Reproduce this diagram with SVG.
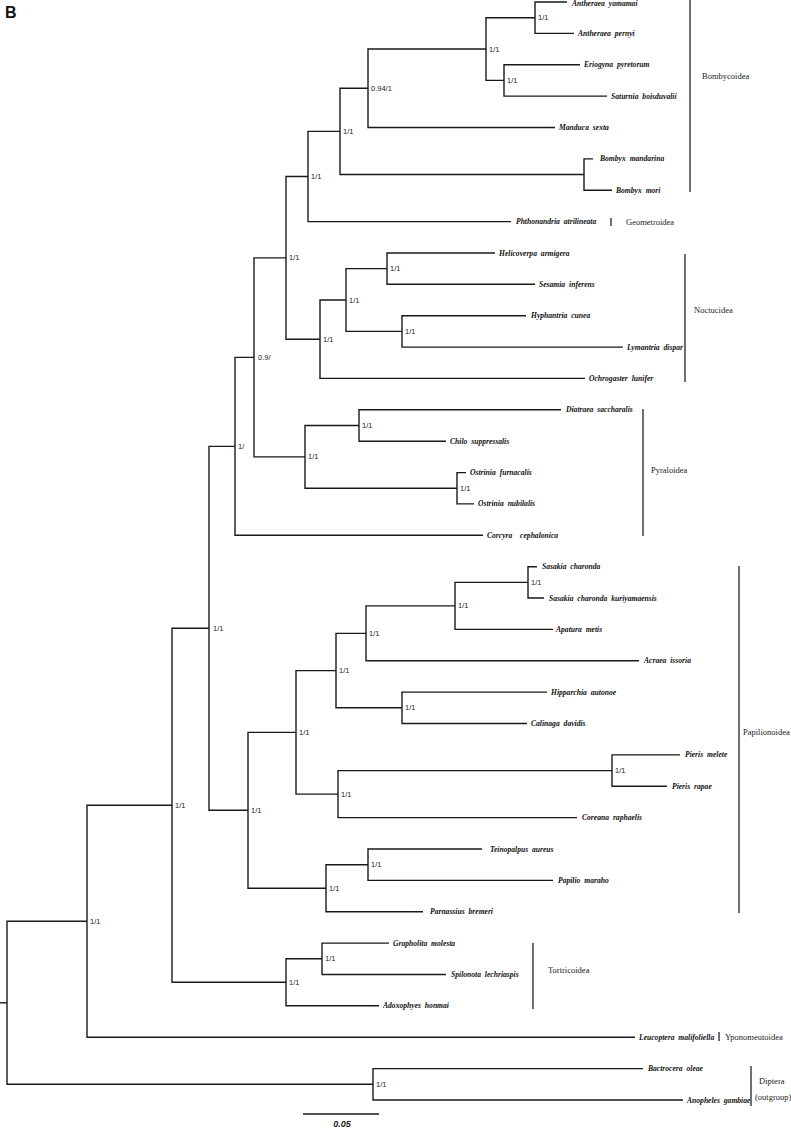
<svg xmlns="http://www.w3.org/2000/svg" width="791" height="1128" viewBox="0 0 791 1128">
<style>
.br{fill:none;stroke:#1a1a1a;stroke-width:1.4}
.bar{fill:none;stroke:#333;stroke-width:1.4}
.tx{font-family:"Liberation Serif",serif;font-style:italic;font-weight:bold;font-size:7.6px;word-spacing:2px;fill:#111;dominant-baseline:central}
.bs{font-family:"Liberation Sans",sans-serif;font-size:7.5px;fill:#222;dominant-baseline:central}
.grp{font-family:"Liberation Serif",serif;font-size:8.5px;fill:#222;dominant-baseline:central}
</style>
<rect width="791" height="1128" fill="#fff"/>
<text x="5" y="18" font-family="Liberation Sans,sans-serif" font-weight="bold" font-size="16" fill="#111">B</text>
<g id="connectors">
<path class="br" d="M567 2 H535 V33.4 H574"/>
<path class="br" d="M580 64.7 H504 V96.1 H607"/>
<path class="br" d="M535 17.7 H486 V80.4 H504"/>
<path class="br" d="M486 49.05 H368 V127.5 H555"/>
<path class="br" d="M593 158.9 H584 V190.2 H612"/>
<path class="br" d="M368 88.3 H340 V174.55 H584"/>
<path class="br" d="M340 131.4 H308 V221.6 H511"/>
<path class="br" d="M495 253 H387 V284.3 H535"/>
<path class="br" d="M526 315.7 H402 V347.1 H623"/>
<path class="br" d="M387 268.65 H346 V331.4 H402"/>
<path class="br" d="M346 300 H320 V378.4 H585"/>
<path class="br" d="M308 176.5 H286 V339.2 H320"/>
<path class="br" d="M561 409.8 H359 V441.2 H446"/>
<path class="br" d="M466 472.6 H457 V503.9 H474"/>
<path class="br" d="M359 425.5 H305 V488.25 H457"/>
<path class="br" d="M286 257.85 H254 V456.9 H305"/>
<path class="br" d="M254 357.4 H235 V535.3 H483"/>
<path class="br" d="M537 566.7 H528 V598 H544"/>
<path class="br" d="M528 582.35 H455 V629.4 H553"/>
<path class="br" d="M455 605.9 H366 V660.8 H639"/>
<path class="br" d="M547 692.1 H402 V723.5 H527"/>
<path class="br" d="M366 633.35 H336 V707.8 H402"/>
<path class="br" d="M680 754.9 H612 V786.3 H667"/>
<path class="br" d="M612 770.6 H338 V817.6 H577"/>
<path class="br" d="M336 670.6 H296 V794.1 H338"/>
<path class="br" d="M482 849 H368 V880.4 H553"/>
<path class="br" d="M368 864.7 H326 V911.7 H423"/>
<path class="br" d="M296 732.35 H248 V888.2 H326"/>
<path class="br" d="M235 446.35 H209 V810.3 H248"/>
<path class="br" d="M389 943.1 H322 V974.5 H446"/>
<path class="br" d="M322 958.8 H286 V1005.8 H379"/>
<path class="br" d="M209 628.3 H172 V982.3 H286"/>
<path class="br" d="M172 805.3 H87 V1037.2 H635"/>
<path class="br" d="M643 1068.6 H373 V1100 H683"/>
<path class="br" d="M87 921.25 H7 V1084.3 H373"/>
<path class="br" d="M0 1002.8 H7"/>
</g>
<g id="support">
<text class="bs" x="538" y="17.7">1/1</text>
<text class="bs" x="507" y="80.4">1/1</text>
<text class="bs" x="489" y="49">1/1</text>
<text class="bs" x="371" y="88.3">0.94/1</text>
<text class="bs" x="343" y="131.4">1/1</text>
<text class="bs" x="311" y="176.5">1/1</text>
<text class="bs" x="390" y="268.6">1/1</text>
<text class="bs" x="405" y="331.4">1/1</text>
<text class="bs" x="349" y="300">1/1</text>
<text class="bs" x="323" y="339.2">1/1</text>
<text class="bs" x="289" y="257.8">1/1</text>
<text class="bs" x="362" y="425.5">1/1</text>
<text class="bs" x="460" y="488.2">1/1</text>
<text class="bs" x="308" y="456.9">1/1</text>
<text class="bs" x="258" y="357.4">0.9/</text>
<text class="bs" x="238" y="446.3">1/</text>
<text class="bs" x="531" y="582.3">1/1</text>
<text class="bs" x="458" y="605.9">1/1</text>
<text class="bs" x="369" y="633.3">1/1</text>
<text class="bs" x="405" y="707.8">1/1</text>
<text class="bs" x="339" y="670.6">1/1</text>
<text class="bs" x="615" y="770.6">1/1</text>
<text class="bs" x="341" y="794.1">1/1</text>
<text class="bs" x="299" y="732.3">1/1</text>
<text class="bs" x="371" y="864.7">1/1</text>
<text class="bs" x="329" y="888.2">1/1</text>
<text class="bs" x="251" y="810.3">1/1</text>
<text class="bs" x="213" y="628.3">1/1</text>
<text class="bs" x="325" y="958.8">1/1</text>
<text class="bs" x="289" y="982.3">1/1</text>
<text class="bs" x="175" y="805.3">1/1</text>
<text class="bs" x="90" y="921.2">1/1</text>
<text class="bs" x="376" y="1084.3">1/1</text>
</g>
<g id="taxa">
<g id="t0"><text class="tx" x="572" y="3">Antheraea yamamai</text></g>
<g id="t1"><text class="tx" x="578" y="33.4">Antheraea pernyi</text></g>
<g id="t2"><text class="tx" x="584" y="64.7">Eriogyna pyretorum</text></g>
<g id="t3"><text class="tx" x="611" y="96.1">Saturnia boisduvalii</text></g>
<g id="t4"><text class="tx" x="559" y="127.5">Manduca sexta</text></g>
<g id="t5"><text class="tx" x="600" y="158.9">Bombyx mandarina</text></g>
<g id="t6"><text class="tx" x="616" y="190.2">Bombyx mori</text></g>
<g id="t7"><text class="tx" x="516" y="221.6">Phthonandria atrilineata</text></g>
<g id="t8"><text class="tx" x="499" y="253">Helicoverpa armigera</text></g>
<g id="t9"><text class="tx" x="539" y="284.3">Sesamia inferens</text></g>
<g id="t10"><text class="tx" x="531" y="315.7">Hyphantria cunea</text></g>
<g id="t11"><text class="tx" x="627" y="347.1">Lymantria dispar</text></g>
<g id="t12"><text class="tx" x="589" y="378.4">Ochrogaster lunifer</text></g>
<g id="t13"><text class="tx" x="566" y="409.8">Diatraea saccharalis</text></g>
<g id="t14"><text class="tx" x="450" y="441.2">Chilo suppressalis</text></g>
<g id="t15"><text class="tx" x="470" y="472.6">Ostrinia furnacalis</text></g>
<g id="t16"><text class="tx" x="478" y="503.9">Ostrinia nubilalis</text></g>
<g id="t17"><text class="tx" x="487" y="535.3" xml:space="preserve">Corcyra  cephalonica</text></g>
<g id="t18"><text class="tx" x="542" y="566.7">Sasakia charonda</text></g>
<g id="t19"><text class="tx" x="549" y="598">Sasakia charonda kuriyamaensis</text></g>
<g id="t20"><text class="tx" x="556" y="629.4">Apatura metis</text></g>
<g id="t21"><text class="tx" x="644" y="660.8">Acraea issoria</text></g>
<g id="t22"><text class="tx" x="551" y="692.1">Hipparchia autonoe</text></g>
<g id="t23"><text class="tx" x="531" y="723.5">Calinaga davidis</text></g>
<g id="t24"><text class="tx" x="685" y="754.9">Pieris melete</text></g>
<g id="t25"><text class="tx" x="672" y="786.3">Pieris rapae</text></g>
<g id="t26"><text class="tx" x="582" y="817.6">Coreana raphaelis</text></g>
<g id="t27"><text class="tx" x="490" y="849">Teinopalpus aureus</text></g>
<g id="t28"><text class="tx" x="558" y="880.4">Papilio maraho</text></g>
<g id="t29"><text class="tx" x="430" y="911.7">Parnassius bremeri</text></g>
<g id="t30"><text class="tx" x="393" y="943.1">Grapholita molesta</text></g>
<g id="t31"><text class="tx" x="451" y="974.5">Spilonota lechriaspis</text></g>
<g id="t32"><text class="tx" x="383" y="1005.8">Adoxophyes honmai</text></g>
<g id="t33"><text class="tx" x="639" y="1037.2">Leucoptera malifoliella</text></g>
<g id="t34"><text class="tx" x="648" y="1068.6">Bactrocera oleae</text></g>
<g id="t35"><text class="tx" x="687" y="1100">Anopheles gambiae</text></g>
</g>
<g id="groups">
<g id="g-bombycoidea"><path class="bar" d="M690 0 V192"/><text class="grp" x="702" y="76">Bombycoidea</text></g>
<g id="g-geometroidea"><path class="bar" d="M611 218 V226"/><text class="grp" x="626" y="222">Geometroidea</text></g>
<g id="g-noctuoidea"><path class="bar" d="M685 254 V382"/><text class="grp" x="694" y="310">Noctucidea</text></g>
<g id="g-pyraloidea"><path class="bar" d="M643 409 V536"/><text class="grp" x="651" y="470">Pyraloidea</text></g>
<g id="g-papilionoidea"><path class="bar" d="M739 566 V913"/><text class="grp" x="743" y="732">Papilionoidea</text></g>
<g id="g-tortricoidea"><path class="bar" d="M533 943 V1009"/><text class="grp" x="548" y="970">Tortricoidea</text></g>
<g id="g-yponomeutoidea"><path class="bar" d="M719 1032 V1041"/><text class="grp" x="725" y="1037">Yponomeutoidea</text></g>
<g id="g-diptera"><path class="bar" d="M751 1066 V1106"/><text class="grp" x="759" y="1081">Diptera</text><text class="grp" x="755" y="1097">(outgroup)</text></g>
</g>
<g id="scale">
<path class="br" d="M303 1114 H379"/>
<text x="342" y="1127" text-anchor="middle" font-family="Liberation Sans,sans-serif" font-style="italic" font-weight="bold" font-size="9" fill="#222">0.05</text>
</g>
</svg>
